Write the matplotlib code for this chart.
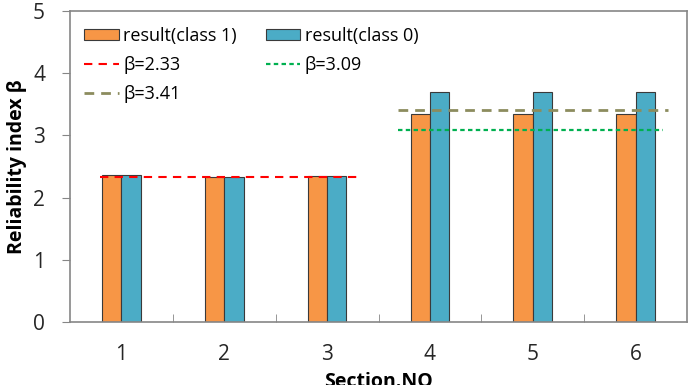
import matplotlib
matplotlib.use("Agg")
import matplotlib.pyplot as plt
import numpy as np

# data
sections = ["1", "2", "3", "4", "5", "6"]
class1 = [2.37, 2.33, 2.35, 3.34, 3.34, 3.34]
class0 = [2.37, 2.33, 2.34, 3.70, 3.70, 3.70]
beta_labels = ["β=2.33", "β=3.09", "β=3.41"]
beta_values = [2.33, 3.09, 3.41]

plt.rcParams["font.family"] = ["Open Sans", "DejaVu Sans"]

fig = plt.figure(figsize=(6.96, 3.85), dpi=100)
ax = fig.add_axes([70 / 696, 1 - 322 / 385, 617 / 696, 311 / 385])

x = np.arange(len(sections))
w = 0.188
b1 = ax.bar(x - w / 2, class1, w, color="#f79646", edgecolor="#3a3a3a",
            linewidth=0.8, label="result(class 1)", zorder=2)
b0 = ax.bar(x + w / 2, class0, w, color="#4bacc6", edgecolor="#3a3a3a",
            linewidth=0.8, label="result(class 0)", zorder=2)

# reference lines: (x-span, colour, dash pattern, width)
line_styles = [
    ((-0.21, 2.30), "#ff0000", (0, (4, 3)), 1.5),
    ((2.69, 5.27), "#00b050", (0, (2, 1.5)), 1.6),
    ((2.69, 5.32), "#8c8c5e", (0, (3.5, 2.5)), 2.0),
]
lines = []
for val, lab, (span, col, ls, lw) in zip(beta_values, beta_labels, line_styles):
    ln, = ax.plot(span, [val, val], color=col, linestyle=ls, linewidth=lw,
                  label=lab, zorder=3)
    lines.append(ln)

ax.set_xlim(-0.5, len(sections) - 0.5)
ax.set_ylim(0, 5)
ax.set_yticks(range(6))
ax.set_xticks(x)
ax.set_xticklabels(sections)
ax.set_xticks(np.arange(0.5, len(sections) - 0.5, 1), minor=True)

ax.tick_params(axis="y", direction="out", length=6, color="#868686",
               labelsize=15, pad=12, labelcolor="#262626")
ax.tick_params(axis="x", which="major", length=0, labelsize=15, pad=16,
               labelcolor="#262626")
ax.tick_params(axis="x", which="minor", direction="in", length=6,
               color="#868686")
for s in ax.spines.values():
    s.set_color("#868686")
    s.set_linewidth(1.2)

ax.set_ylabel("Reliability index β", fontsize=14, fontweight="bold",
              labelpad=4)
ax.set_xlabel("Section.NO", fontsize=14, fontweight="bold", labelpad=5)

handles = [b1, lines[0], lines[2], b0, lines[1]]
ax.legend(handles=handles, labels=[h.get_label() for h in handles],
          loc="upper left", bbox_to_anchor=(0.0, 0.995), ncol=2,
          frameon=False, fontsize=13, handlelength=1.9, handleheight=0.55,
          handletextpad=0.25, columnspacing=1.6, labelspacing=0.62,
          borderaxespad=0.4)

fig.savefig("out.png", dpi=100)
